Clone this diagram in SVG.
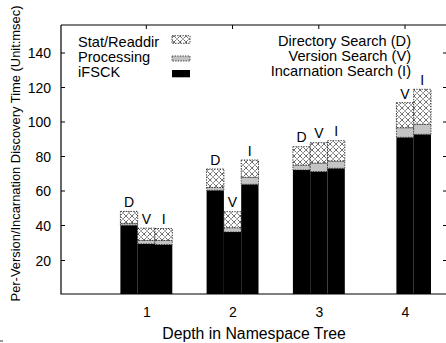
<svg xmlns="http://www.w3.org/2000/svg" width="446" height="343" viewBox="0 0 446 343">
  <style>
    text { font-family: "Liberation Sans", Arial, Helvetica, sans-serif; fill: #000; }
    .tick { font-size: 14px; }
    .ytick { text-anchor: end; }
    .xtick { text-anchor: middle; }
    .key { font-size: 14.6px; }
    .keyr { font-size: 14.6px; text-anchor: end; }
    .bl { font-size: 14px; text-anchor: middle; }
    .axis { fill: none; stroke: #000; stroke-width: 1.2; }
    .tk { stroke: #000; stroke-width: 1; }
    .ifsck { fill: #000; }
    .proc { fill: #c4c4c4; stroke: #222; stroke-width: 0.8; stroke-dasharray: 1.4 1.2; }
    .stat { fill: url(#xhatch); stroke: #111; stroke-width: 0.8; stroke-dasharray: 1.4 1.2; }
  </style>
  <defs>
    <!-- crosshatch fill used for the Stat/Readdir segments -->
    <pattern id="xhatch" patternUnits="userSpaceOnUse" width="6" height="6">
      <rect width="6" height="6" fill="#fff"/>
      <path d="M0,0 L6,6 M0,6 L6,0" stroke="#222" stroke-width="0.9" stroke-dasharray="1.1 0.8"/>
    </pattern>
  </defs>

  <rect width="446" height="343" fill="#fff"/>

  <!-- stacked bars: iFSCK (black), Processing (gray), Stat/Readdir (hatched) -->
  <g id="depth1">
    <rect class="ifsck" x="120.4" y="225.2" width="17.3" height="68.8"/>
    <rect class="proc"  x="120.4" y="223.3" width="17.3" height="1.9"/>
    <rect class="stat"  x="120.4" y="211.4" width="17.3" height="11.9"/>
    <rect class="ifsck" x="137.7" y="243.8" width="17.3" height="50.2"/>
    <rect class="proc"  x="137.7" y="240.4" width="17.3" height="3.4"/>
    <rect class="stat"  x="137.7" y="228.2" width="17.3" height="12.2"/>
    <rect class="ifsck" x="155.0" y="244.5" width="17.3" height="49.5"/>
    <rect class="proc"  x="155.0" y="240.4" width="17.3" height="4.1"/>
    <rect class="stat"  x="155.0" y="228.5" width="17.3" height="11.9"/>
    <text class="bl" x="129.0" y="207">D</text>
    <text class="bl" x="146.3" y="224">V</text>
    <text class="bl" x="163.6" y="224">I</text>
  </g>

  <g id="depth2">
    <rect class="ifsck" x="206.6" y="190.3" width="17.3" height="103.7"/>
    <rect class="proc"  x="206.6" y="187.5" width="17.3" height="2.8"/>
    <rect class="stat"  x="206.6" y="169.0" width="17.3" height="18.5"/>
    <rect class="ifsck" x="223.9" y="232.0" width="17.3" height="62.0"/>
    <rect class="proc"  x="223.9" y="227.7" width="17.3" height="4.3"/>
    <rect class="stat"  x="223.9" y="211.7" width="17.3" height="16.0"/>
    <rect class="ifsck" x="241.2" y="184.3" width="17.3" height="109.7"/>
    <rect class="proc"  x="241.2" y="177.3" width="17.3" height="7.0"/>
    <rect class="stat"  x="241.2" y="160.0" width="17.3" height="17.3"/>
    <text class="bl" x="215.2" y="164.5">D</text>
    <text class="bl" x="232.5" y="207">V</text>
    <text class="bl" x="249.8" y="155.5">I</text>
  </g>

  <g id="depth3">
    <rect class="ifsck" x="292.9" y="170.0" width="17.3" height="124.0"/>
    <rect class="proc"  x="292.9" y="165.0" width="17.3" height="5.0"/>
    <rect class="stat"  x="292.9" y="146.7" width="17.3" height="18.3"/>
    <rect class="ifsck" x="310.2" y="171.5" width="17.3" height="122.5"/>
    <rect class="proc"  x="310.2" y="163.0" width="17.3" height="8.5"/>
    <rect class="stat"  x="310.2" y="142.7" width="17.3" height="20.3"/>
    <rect class="ifsck" x="327.5" y="168.3" width="17.3" height="125.7"/>
    <rect class="proc"  x="327.5" y="161.0" width="17.3" height="7.3"/>
    <rect class="stat"  x="327.5" y="140.7" width="17.3" height="20.3"/>
    <text class="bl" x="301.5" y="142">D</text>
    <text class="bl" x="318.8" y="138">V</text>
    <text class="bl" x="336.1" y="136">I</text>
  </g>

  <g id="depth4">
    <rect class="ifsck" x="396.4" y="137.3" width="17.3" height="156.7"/>
    <rect class="proc"  x="396.4" y="127.7" width="17.3" height="9.6"/>
    <rect class="stat"  x="396.4" y="102.7" width="17.3" height="25.0"/>
    <rect class="ifsck" x="413.7" y="134.3" width="17.3" height="159.7"/>
    <rect class="proc"  x="413.7" y="124.3" width="17.3" height="10.0"/>
    <rect class="stat"  x="413.7" y="89.3"  width="17.3" height="35.0"/>
    <text class="bl" x="405.0" y="98.5">V</text>
    <text class="bl" x="422.3" y="85">I</text>
  </g>

  <!-- frame and ticks -->
  <g id="axes">
    <path class="axis" d="M61,25 V294 H448 M61,25 H448"/>
    <path class="tk" d="M61,260.5 h4 M61,225.5 h4 M61,191 h4 M61,156.5 h4 M61,122 h4 M61,87.5 h4 M61,53 h4
                        M447,260.5 h-4 M447,225.5 h-4 M447,191 h-4 M447,156.5 h-4 M447,122 h-4 M447,87.5 h-4 M447,53 h-4
                        M146.3,25 v4 M232.5,25 v4 M318.8,25 v4 M405,25 v4"/>
    <text class="tick ytick" x="51" y="265.5">20</text>
    <text class="tick ytick" x="51" y="230.5">40</text>
    <text class="tick ytick" x="51" y="196">60</text>
    <text class="tick ytick" x="51" y="161.5">80</text>
    <text class="tick ytick" x="51" y="127">100</text>
    <text class="tick ytick" x="51" y="92.5">120</text>
    <text class="tick ytick" x="51" y="58">140</text>
    <text class="tick xtick" x="146.8" y="317">1</text>
    <text class="tick xtick" x="233" y="317">2</text>
    <text class="tick xtick" x="319.3" y="317">3</text>
    <text class="tick xtick" x="405.5" y="317">4</text>
    <text x="254" y="339" font-size="15.8" text-anchor="middle">Depth in Namespace Tree</text>
    <text transform="translate(20,153.5) rotate(-90)" font-size="12.9" text-anchor="middle">Per-Version/Incarnation Discovery Time (Unit:msec)</text>
  </g>

  <!-- key -->
  <g id="legend">
    <text class="key" x="78" y="46.5">Stat/Readdir</text>
    <rect class="stat" x="172" y="35.7" width="18" height="7.6"/>
    <text class="key" x="78" y="61.5">Processing</text>
    <rect class="proc" x="172" y="56" width="18" height="5"/>
    <text class="key" x="78" y="76.5">iFSCK</text>
    <rect class="ifsck" x="172" y="70" width="18" height="7.3"/>
    <text class="keyr" x="411" y="46">Directory Search (D)</text>
    <text class="keyr" x="411" y="61">Version Search (V)</text>
    <text class="keyr" x="411" y="76">Incarnation Search (I)</text>
  </g>

  <path d="M0,341 h3" stroke="#333" stroke-width="1"/>
</svg>
